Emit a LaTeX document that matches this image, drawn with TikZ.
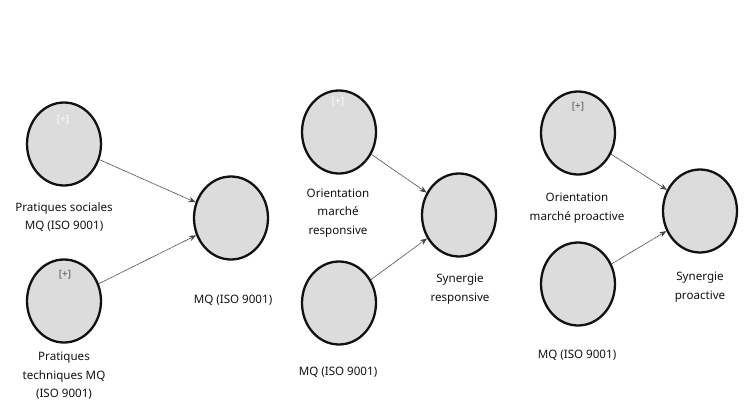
\documentclass[tikz,border=0pt]{standalone}
\usepackage{fontspec}
\setmainfont{Noto Sans}
\usepackage{tikz}
\usetikzlibrary{arrows.meta, shapes.geometric}
\definecolor{disc}{HTML}{DCDCDC}
\definecolor{ink}{HTML}{111111}
\definecolor{ink2}{HTML}{444444}
\definecolor{plusD}{HTML}{555555}

\begin{document}
\begin{tikzpicture}[
  x=1pt, y=-1pt,
  font=\fontsize{11.6}{18.5}\selectfont, text=ink,
  lv/.style  ={ellipse, draw=ink, fill=disc, line width=2.3pt, inner sep=0pt,
               minimum width=74pt, minimum height=83pt},
  lbl/.style ={align=center, inner sep=1pt},
  plus/.style={font=\fontsize{10}{12}\selectfont, inner sep=0pt},
  arr/.style ={-{Stealth[length=7pt,width=5.5pt]}, line width=0.7pt, draw=ink2,
               dash pattern=on 1.2pt off 0.5pt}
]
\useasboundingbox (0,0) rectangle (748,407);

% the three models, each two constructs into one
\node[lv] (soc)  at (64,144)  {};
\node[lv] (tech) at (64,301)  {};
\node[lv] (mq)   at (231,218) {};
\node[plus, text=white] (socP)  at (63,120) {[+]};
\node[plus, text=plusD] (techP) at (65,275) {[+]};
\node[lbl] (socL)  at (64,217)  {Pratiques sociales\\MQ (ISO 9001)};
\node[lbl] (techL) at (64,376)  {Pratiques\\techniques MQ\\(ISO 9001)};
\node[lbl] (mqL)   at (233,300) {MQ (ISO 9001)};

\node[lv] (omr)  at (339,132) {};
\node[lv] (mqR)  at (339,303) {};
\node[lv] (synR) at (459,215) {};
\node[plus, text=white] (omrP) at (338,102) {[+]};
\node[lbl] (omrL)  at (338,213) {Orientation\\marché\\responsive};
\node[lbl] (mqRL)  at (338,372) {MQ (ISO 9001)};
\node[lbl] (synRL) at (460,289) {Synergie\\responsive};

\node[lv] (omp)  at (578,133) {};
\node[lv] (mqP)  at (578,284) {};
\node[lv] (synP) at (700,211) {};
\node[plus, text=plusD] (ompP) at (578,107) {[+]};
\node[lbl] (ompL)  at (577,208) {Orientation\\marché proactive};
\node[lbl] (mqPL)  at (577,355) {MQ (ISO 9001)};
\node[lbl] (synPL) at (700,287) {Synergie\\proactive};

\draw[arr] (soc)  -- (mq);
\draw[arr] (tech) -- (mq);
\draw[arr] (omr)  -- (synR);
\draw[arr] (mqR)  -- (synR);
\draw[arr] (omp)  -- (synP);
\draw[arr] (mqP)  -- (synP);
\end{tikzpicture}
\end{document}
